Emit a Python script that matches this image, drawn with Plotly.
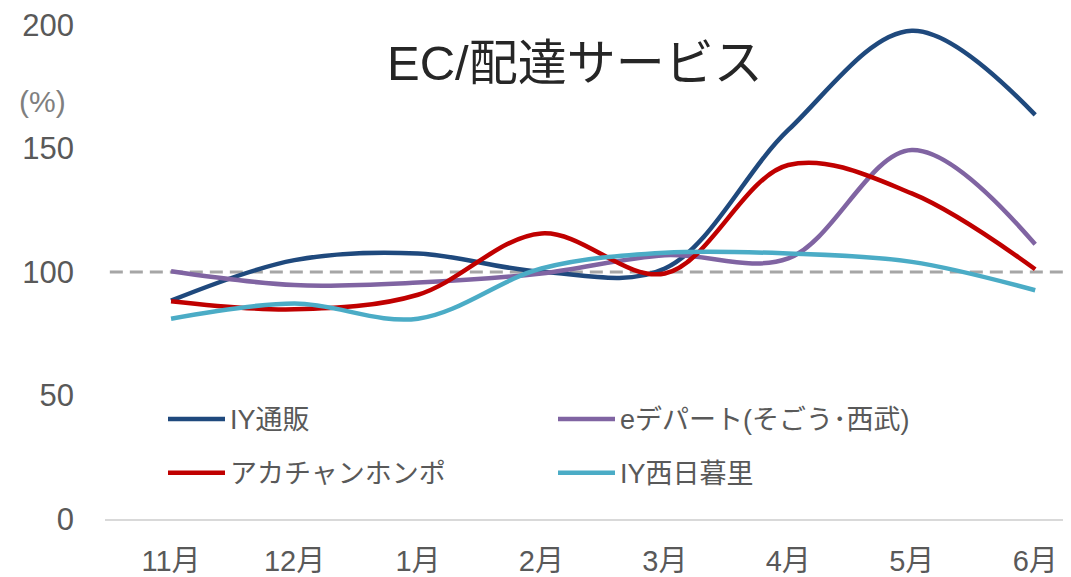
import plotly.graph_objects as go

months = ["11月", "12月", "1月", "2月", "3月", "4月", "5月", "6月"]
iy_tsuhan = [88.4, 104.8, 107.5, 100.1, 101.4, 157.5, 197.7, 163.6]
e_depart = [100.3, 94.7, 95.7, 99.4, 106.8, 105.5, 149.4, 111.2]
akachan = [88.2, 84.9, 90.8, 115.6, 99.4, 143.3, 131.8, 101.1]
iy_nishinippori = [81.1, 87.2, 81.1, 101.4, 107.8, 107.5, 104.1, 92.6]
ref_level = 100
y_ticks = [0, 50, 100, 150, 200]

series = [
    ("IY通販", iy_tsuhan, "#1F497D", "legend"),
    ("eデパート(そごう･西武)", e_depart, "#8064A2", "legend"),
    ("アカチャンホンポ", akachan, "#C00000", "legend2"),
    ("IY西日暮里", iy_nishinippori, "#4BACC6", "legend2"),
]

FONT = "Liberation Sans, Arial, Noto Sans CJK JP"
# page body has an 8px margin; figure is sized so it fills the 1071x577 window
OFF = 8
W, H = 1071 - OFF, 577 - OFF
ML, MR, MT, MB = 105 - OFF, 0, 24 - OFF, H - (520 - OFF)
pw = W - ML - MR
ph = H - MT - MB


def px_x(sx):
    return (sx - OFF - ML) / pw


def px_y(sy):
    return (H - MB - (sy - OFF)) / ph


fig = go.Figure()
for name, vals, color, lg in series:
    fig.add_trace(go.Scatter(
        x=list(range(len(months))), y=vals, name=name, mode="lines",
        line=dict(color=color, width=4.5, shape="spline", smoothing=1.0),
        legend=lg, cliponaxis=False,
    ))

fig.add_shape(type="line", xref="paper", x0=0.005, x1=1, yref="y", y0=ref_level, y1=ref_level,
              line=dict(color="#A6A6A6", width=3, dash="13px,7px"), layer="below")

fig.add_annotation(text="EC/配達サービス", xref="paper", yref="paper",
                   x=px_x(575), y=px_y(62),
                   showarrow=False, xanchor="center", yanchor="middle",
                   font=dict(family=FONT, size=49, color="#262626"))
fig.add_annotation(text="(%)", xref="paper", yref="paper",
                   x=px_x(43), y=px_y(101),
                   showarrow=False, xanchor="center", yanchor="middle",
                   font=dict(family=FONT, size=30, color="#7F7F7F"))

legend_common = dict(orientation="h", xanchor="left", yanchor="middle",
                     bgcolor="rgba(0,0,0,0)", entrywidth=318, entrywidthmode="pixels",
                     font=dict(family=FONT, size=27, color="#595959"), itemwidth=57,
                     tracegroupgap=0)

fig.update_layout(
    width=W, height=H,
    margin=dict(l=ML, r=MR, t=MT, b=MB),
    paper_bgcolor="white", plot_bgcolor="white",
    showlegend=True,
    legend=dict(x=px_x(163), y=px_y(420), **legend_common),
    legend2=dict(x=px_x(163), y=px_y(474), **legend_common),
    xaxis=dict(
        tickmode="array", tickvals=list(range(len(months))), ticktext=months,
        range=[-0.535, 7.29], showgrid=False, zeroline=False,
        showline=True, linecolor="#D9D9D9", linewidth=2,
        ticks="", ticklabelstandoff=15,
        tickfont=dict(family=FONT, size=29, color="#595959"),
    ),
    yaxis=dict(
        range=[0, 200], tickvals=y_ticks, showgrid=False, zeroline=False,
        showline=False, ticks="", ticklabelstandoff=30, ticklabeloverflow="allow",
        tickfont=dict(family=FONT, size=31, color="#595959"),
    ),
)

fig.write_html("out.html")
